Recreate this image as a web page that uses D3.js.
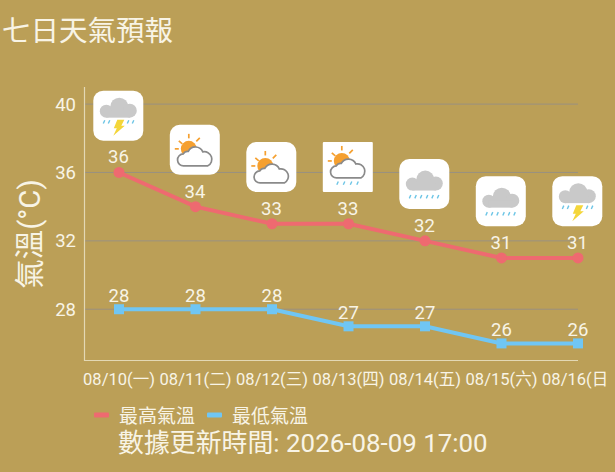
<!DOCTYPE html>
<html>
<head>
<meta charset="utf-8">
<script src="https://cdn.jsdelivr.net/npm/d3@7"></script>
<style>
html, body { margin: 0; padding: 0; background: #bb9f57; overflow: hidden; }
text { font-family: Roboto, "Noto Sans CJK TC", sans-serif; fill: #f8f4e6; }
</style>
</head>
<body>
<svg id="chart" width="615" height="472"></svg>
<script>
var dates = ["08/10(一)", "08/11(二)", "08/12(三)", "08/13(四)", "08/14(五)", "08/15(六)", "08/16(日)"];
var highTemps = [36, 34, 33, 33, 32, 31, 31];
var lowTemps = [28, 28, 28, 27, 27, 26, 26];
var weather = ["thunder", "partly", "partly", "partlyrain", "rain", "rain", "thunder"];
var yTicks = [28, 32, 36, 40];

var w = 615, h = 472;
var svg = d3.select("#chart");

// background
svg.append("rect").attr("width", w).attr("height", h).attr("fill", "#bb9f57");

// last x label gets cut off on the right in the source
svg.append("clipPath").attr("id", "xclip").append("rect")
    .attr("x", 0).attr("y", 360).attr("width", 608).attr("height", 40);

// title
svg.append("text").attr("x", 2).attr("y", 41).attr("font-size", 28.5).text("七日天氣預報");

var x = d3.scalePoint().domain(dates).range([119, 578]);
var y = d3.scaleLinear().domain([25, 41]).range([360.5, 87]);

// gridlines
svg.selectAll(".grid").data(yTicks).enter().append("line")
    .attr("x1", 84).attr("x2", 578)
    .attr("y1", function(d) { return y(d); })
    .attr("y2", function(d) { return y(d); })
    .attr("stroke", "#9a9180").attr("stroke-width", 1);

// axis lines
svg.append("line").attr("x1", 84.5).attr("x2", 84.5).attr("y1", 87).attr("y2", 361)
    .attr("stroke", "#e3d8b4").attr("stroke-width", 1.2);
svg.append("line").attr("x1", 84).attr("x2", 578).attr("y1", 360.5).attr("y2", 360.5)
    .attr("stroke", "#e3d8b4").attr("stroke-width", 1.2);

// y tick labels
svg.selectAll(".ytick").data(yTicks).enter().append("text")
    .attr("x", 76).attr("text-anchor", "end")
    .attr("y", function(d) { return y(d) + 6.5; })
    .attr("font-size", 18.5)
    .text(function(d) { return d; });

// y title
svg.append("text").attr("transform", "translate(40,234) rotate(-90)")
    .attr("text-anchor", "middle").attr("font-size", 29.5).text("氣溫(°C)");

// x tick labels
svg.append("g").attr("clip-path", "url(#xclip)")
    .selectAll(".xtick").data(dates).enter().append("text")
    .attr("x", function(d) { return x(d); })
    .attr("y", 385).attr("text-anchor", "middle").attr("font-size", 16.5)
    .text(function(d) { return d; });

var line = d3.line()
    .x(function(d, i) { return x(dates[i]); })
    .y(function(d) { return y(d); });

// high
svg.append("path").attr("d", line(highTemps)).attr("fill", "none")
    .attr("stroke", "#ee6a70").attr("stroke-width", 4);
svg.selectAll(".hi").data(highTemps).enter().append("circle")
    .attr("cx", function(d, i) { return x(dates[i]); })
    .attr("cy", function(d) { return y(d); })
    .attr("r", 5.5).attr("fill", "#ee6a70");

// low
svg.append("path").attr("d", line(lowTemps)).attr("fill", "none")
    .attr("stroke", "#70c6f4").attr("stroke-width", 4);
svg.selectAll(".lo").data(lowTemps).enter().append("rect")
    .attr("x", function(d, i) { return x(dates[i]) - 5; })
    .attr("y", function(d) { return y(d) - 5; })
    .attr("width", 10).attr("height", 10).attr("fill", "#70c6f4");

// value labels
svg.selectAll(".hilabel").data(highTemps).enter().append("text")
    .attr("x", function(d, i) { return x(dates[i]) - 0.5; })
    .attr("y", function(d) { return y(d) - 9; })
    .attr("text-anchor", "middle").attr("font-size", 18.5)
    .text(function(d) { return d; });
svg.selectAll(".lolabel").data(lowTemps).enter().append("text")
    .attr("x", function(d, i) { return x(dates[i]); })
    .attr("y", function(d) { return y(d) - 7; })
    .attr("text-anchor", "middle").attr("font-size", 18.5)
    .text(function(d) { return d; });

// weather icons
function drawCloud(g, cy) {
    var c = g.append("g").attr("transform", "translate(0," + cy + ")").attr("fill", "#c9c9c9");
    c.append("circle").attr("cx", -12).attr("cy", 3.5).attr("r", 6.5);
    c.append("circle").attr("cx", 1).attr("cy", -1).attr("r", 9);
    c.append("circle").attr("cx", 11.5).attr("cy", 3).attr("r", 7);
    c.append("rect").attr("x", -12).attr("y", 3).attr("width", 23.5).attr("height", 7);
}

function drawRain(g, xs, yy) {
    xs.forEach(function(rx) {
        g.append("line").attr("x1", rx - 1).attr("x2", rx + 0.5).attr("y1", yy + 1.8).attr("y2", yy - 1.5)
            .attr("stroke", "#6cc5e6").attr("stroke-width", 1.4);
    });
}

function drawSun(g) {
    g.append("circle").attr("cx", -6).attr("cy", -1).attr("r", 8).attr("fill", "#f5a030");
    [[-20, -1, -16, -1], [-16, -9, -12.5, -6], [-6, -16, -6, -11.5], [5, -12, 1.5, -8.5]].forEach(function(r) {
        g.append("line").attr("x1", r[0]).attr("y1", r[1]).attr("x2", r[2]).attr("y2", r[3])
            .attr("stroke", "#f5a030").attr("stroke-width", 1.7);
    });
}

var outlineCloud = "M-11,16 a6,6 0 0 1 -0.5,-12 a5,5 0 0 1 5,-2.5 a8,8 0 0 1 14.5,0.5 a7.5,7.5 0 0 1 5,14 z";

var icons = svg.selectAll(".icon").data(weather).enter().append("g")
    .attr("transform", function(d, i) {
        return "translate(" + (x(dates[i]) - 0.7) + "," + (y(highTemps[i]) - 56.8) + ")";
    });

icons.each(function(d, i) {
    var g = d3.select(this);
    // 4th icon has square corners in the source
    var corner = d === "partlyrain" ? 1 : 10;
    g.append("rect").attr("x", -25).attr("y", -25).attr("width", 50).attr("height", 50)
        .attr("rx", corner).attr("fill", "#ffffff");
    if (d === "thunder") {
        drawCloud(g, -8);
        drawRain(g, [-14, -9, 10, 15], 6);
        g.append("path").attr("d", "M-1,4 L6,4 L3,10 L6.5,10 L-5,20 L-1.5,12.5 L-4.5,12.5 z").attr("fill", "#f4d63a");
    } else if (d === "rain") {
        drawCloud(g, -3.5);
        drawRain(g, [-14, -8.5, -3, 3, 8.5, 14], 12.5);
    } else if (d === "partly") {
        drawSun(g);
        g.append("path").attr("d", outlineCloud)
            .attr("fill", "#ffffff").attr("stroke", "#8a8a8a").attr("stroke-width", 1.7);
    } else {
        g.append("g").attr("transform", "translate(0,-5)").call(drawSun);
        g.append("path").attr("d", outlineCloud).attr("transform", "translate(0,-5)")
            .attr("fill", "#ffffff").attr("stroke", "#8a8a8a").attr("stroke-width", 1.7);
        drawRain(g, [-10, -3.5, 3.5, 10], 16);
    }
});

// legend
var legendNames = ["最高氣溫", "最低氣溫"];
var legendColors = ["#ee6a70", "#70c6f4"];
var legendX = [94, 207];
legendNames.forEach(function(name, i) {
    svg.append("rect").attr("x", legendX[i]).attr("y", 412.5).attr("width", 15).attr("height", 5).attr("rx", 1)
        .attr("fill", legendColors[i]);
    svg.append("text").attr("x", legendX[i] + 25).attr("y", 423).attr("font-size", 19).text(name);
});

// update time
svg.append("text").attr("x", 118).attr("y", 452).attr("font-size", 25.9).text("數據更新時間: 2026-08-09 17:00");
</script>
</body>
</html>
